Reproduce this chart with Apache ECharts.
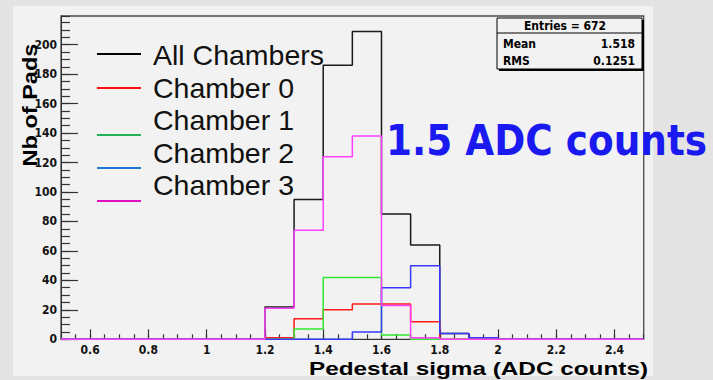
<!DOCTYPE html>
<html><head><meta charset="utf-8">
<script src="https://cdn.jsdelivr.net/npm/echarts@6/dist/echarts.min.js"></script>
<style>html,body{margin:0;padding:0;background:#e3e3e3}#c{width:713px;height:380px}</style>
</head><body><div id="c"></div>
<script>
// ---- data ----
const binLow = [0.5,0.6,0.7,0.8,0.9,1.0,1.1,1.2,1.3,1.4,1.5,1.6,1.7,1.8,1.9,2.0,2.1,2.2,2.3,2.4];
const binHigh = 2.5;
const allChambers = [0,0,0,0,0,0,0,22,95,186,209,85,64,4,1,0,0,0,0,0];
const chamber0    = [0,0,0,0,0,0,0,1,14,20,24,24,12,0,0,0,0,0,0,0];
const chamber1    = [0,0,0,0,0,0,0,0,7,42,42,3,0,0,0,0,0,0,0,0];
const chamber2    = [0,0,0,0,0,0,0,0,0,0,5,35,50,4,1,0,0,0,0,0];
const chamber3    = [0,0,0,0,0,0,0,21,74,124,138,23,1,0,0,0,0,0,0,0];
const seriesNames = ['All Chambers','Chamber 0','Chamber 1','Chamber 2','Chamber 3'];
const xTickLabels = [0.6,0.8,1,1.2,1.4,1.6,1.8,2,2.2,2.4];
const yTickLabels = [0,20,40,60,80,100,120,140,160,180,200];
const statsTitle = 'Entries = 672';
const statsLabels = ['Mean','RMS'];
const statsValues = ['1.518','0.1251'];
const xTitle = 'Pedestal sigma (ADC counts)';
const yTitle = 'Nb of Pads';
const note = '1.5 ADC counts';

// ---- styling ----
const lineColors = ['#1a1a1a','#ff1a1a','#33e633','#3838ff','#ff40ff'];
const legendColors = ['#000000','#ff1010','#22b35a','#1c78d4','#e010c0'];
const NARROW = '"Liberation Sans Narrow","DejaVu Sans Condensed","Arial Narrow","Liberation Sans",sans-serif';
const SANS = '"Liberation Sans",Arial,sans-serif';

function histData(vals){
  const d = binLow.map((x,i)=>[x, vals[i]]);
  d.push([binHigh, vals[vals.length-1]]);
  return d;
}
const allSeries = [allChambers, chamber0, chamber1, chamber2, chamber3];

const chart = echarts.init(document.getElementById('c'), null, {renderer:'svg'});

const graphic = [];
// panel
graphic.push({type:'rect', z:-10, shape:{x:13,y:6,width:640,height:370}, style:{fill:'#f2f2f2'}});
// legend
const legLineY = [54,88,135,168,201];
const legTextY = [55,88,120,153,185];
seriesNames.forEach((n,i)=>{
  graphic.push({type:'line', z:5, shape:{x1:97,y1:legLineY[i],x2:141,y2:legLineY[i]}, style:{stroke:legendColors[i], lineWidth:2}});
  graphic.push({type:'text', z:5, x:153, y:legTextY[i], style:{text:n, fill:'#111', fontSize:28.5, fontFamily:SANS, textAlign:'left', textVerticalAlign:'middle'}});
});
// stats box
graphic.push({type:'rect', z:6, shape:{x:499,y:20,width:145,height:51}, style:{fill:'#000'}});
graphic.push({type:'rect', z:7, shape:{x:497,y:18,width:145,height:51}, style:{fill:'#f2f2f2', stroke:'#000', lineWidth:1}});
graphic.push({type:'line', z:8, shape:{x1:497,y1:33,x2:642,y2:33}, style:{stroke:'#000', lineWidth:1}});
graphic.push({type:'text', z:8, x:565, y:26, style:{text:statsTitle, fill:'#000', fontSize:12, fontWeight:'bold', fontFamily:NARROW, textAlign:'center', textVerticalAlign:'middle'}});
const statY = [44,61];
statsLabels.forEach((l,i)=>{
  graphic.push({type:'text', z:8, x:503, y:statY[i], style:{text:l, fill:'#000', fontSize:12, fontWeight:'bold', fontFamily:NARROW, textAlign:'left', textVerticalAlign:'middle'}});
  graphic.push({type:'text', z:8, x:635, y:statY[i], style:{text:statsValues[i], fill:'#000', fontSize:12, fontWeight:'bold', fontFamily:NARROW, textAlign:'right', textVerticalAlign:'middle'}});
});
// annotation
graphic.push({type:'text', z:9, x:386, y:141, scaleX:0.87, style:{text:note, fill:'#1a1af0', fontSize:43, fontWeight:'bold', fontFamily:'"DejaVu Sans",sans-serif', textAlign:'left', textVerticalAlign:'middle'}});
// axis titles
graphic.push({type:'text', z:5, x:30, y:105, rotation:Math.PI/2, scaleX:1.12, style:{text:yTitle, fill:'#000', fontSize:21, fontWeight:'bold', fontFamily:SANS, textAlign:'center', textVerticalAlign:'middle'}});
graphic.push({type:'text', z:5, x:648, y:368, scaleX:1.28, style:{text:xTitle, fill:'#000', fontSize:19, fontWeight:'bold', fontFamily:SANS, textAlign:'right', textVerticalAlign:'middle'}});

const labelStyle = {fontSize:12, fontWeight:'bold', fontFamily:NARROW, color:'#111'};

chart.setOption({
  backgroundColor:'#e3e3e3',
  animation:false,
  grid:{left:61, top:16, width:582.7, height:323.3, show:true, borderColor:'#4a4a4a', borderWidth:1.3, backgroundColor:'transparent'},
  xAxis:[
    {type:'value', min:0.5, max:2.5, position:'bottom',
      axisLine:{show:true, onZero:false, lineStyle:{color:'#333', width:1}},
      axisTick:{show:true, inside:true, length:10, customValues:xTickLabels, lineStyle:{color:'#333', width:1.2}},
      axisLabel:Object.assign({customValues:xTickLabels, margin:5}, labelStyle),
      splitLine:{show:false}},
    {type:'value', min:0.5, max:2.5, interval:0.05, position:'bottom',
      axisLine:{show:false}, axisTick:{show:true, inside:true, length:5, lineStyle:{color:'#333', width:1.2}},
      axisLabel:{show:false}, splitLine:{show:false}}
  ],
  yAxis:[
    {type:'value', min:0, max:219.5, position:'left',
      axisLine:{show:true, onZero:false, lineStyle:{color:'#333', width:1}},
      axisTick:{show:true, inside:true, length:17, customValues:yTickLabels, lineStyle:{color:'#333', width:1.2}},
      axisLabel:Object.assign({customValues:yTickLabels, margin:4}, labelStyle),
      splitLine:{show:false}},
    {type:'value', min:0, max:219.5, interval:5, position:'left',
      axisLine:{show:false}, axisTick:{show:true, inside:true, length:9, lineStyle:{color:'#333', width:1.2}},
      axisLabel:{show:false}, splitLine:{show:false}}
  ],
  series: allSeries.map((v,i)=>({
    name:seriesNames[i], type:'line', step:'end', xAxisIndex:0, yAxisIndex:0,
    showSymbol:false, clip:false, data:histData(v),
    lineStyle:{color:lineColors[i], width:1.5}, itemStyle:{color:lineColors[i]}, z:2+i
  })),
  graphic: graphic
});
</script></body></html>
